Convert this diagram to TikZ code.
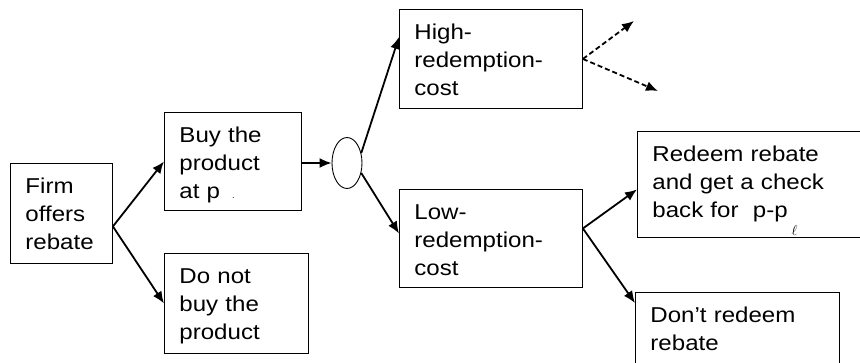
\documentclass[tikz,border=0pt]{standalone}
\usepackage{fontspec}
\setmainfont[FakeStretch=1.12]{Liberation Sans}
\usetikzlibrary{arrows.meta,shapes.geometric}

\begin{document}
\begin{tikzpicture}[x=1pt, y=-1pt,
		box/.style={draw, line width=0.9pt, anchor=north west, align=left,
			inner xsep=15pt, inner ysep=0pt, text height=30.4pt,
			font=\fontsize{21.5}{27.7}\selectfont},
		arr/.style={line width=1.8pt, -{Latex[length=12pt,width=10pt]}},
		darr/.style={arr, dash pattern=on 5pt off 3pt}]
			%%%%% START %%%%%
			\useasboundingbox (0, 0) rectangle (860, 362);
			
			\node[box, text width=72pt, text depth=69.6pt] (firm) at (10, 163) {Firm\\offers\\rebate};
			\node[box, text width=107pt, text depth=67.6pt] (buy) at (164, 112) {Buy the\\product\\at p\hspace{12pt}{\fontsize{8}{8}\selectfont .}};
			\node[box, text width=114pt, text depth=69.6pt] (nobuy) at (164, 253) {Do not\\buy the\\product};
			
			\node[draw, line width=0.9pt, ellipse, inner sep=0pt, minimum width=30pt, minimum height=51pt] (ell) at (347, 163) {};
			
			\node[box, text width=153pt, text depth=68.6pt] (high) at (399, 9) {High-\\redemption-\\cost};
			\node[box, text width=153pt, text depth=67.6pt] (low) at (399, 189) {Low-\\redemption-\\cost};
			
			\node[box, text width=210pt, text depth=75.6pt] (redeem) at (637, 131) {Redeem rebate\\and get a check\\back for~ p-p\hspace{4pt}\raisebox{-18pt}{\fontsize{14}{14}\selectfont$\ell$}};
			\node[box, text width=174pt, text depth=49.6pt] (noredeem) at (635, 292) {Don’t redeem\\rebate};
			
			\coordinate (hiup) at (634, 21);
			\coordinate (hidown) at (658, 91);
			
			\draw[arr] ([yshift=-13pt]firm.east) -- (buy.west);
			\draw[arr] ([yshift=-13pt]firm.east) -- (nobuy.west);
			\draw[arr] (buy.east |- ell.west) -- (ell.west);
			\draw[arr] (ell.35) -- ([yshift=-28pt]high.north west);
			\draw[arr] (ell.-35) -- ([yshift=5pt]low.west);
			\draw[darr] (high.east) -- (hiup);
			\draw[darr] (high.east) -- (hidown);
			\draw[arr] ([yshift=10pt]low.east) -- ([yshift=-5pt]redeem.west);
			\draw[arr] ([yshift=10pt]low.east) -- ([yshift=-11pt]noredeem.north west);
			
			%%%%% END %%%%%
		\end{tikzpicture}
\end{document}
